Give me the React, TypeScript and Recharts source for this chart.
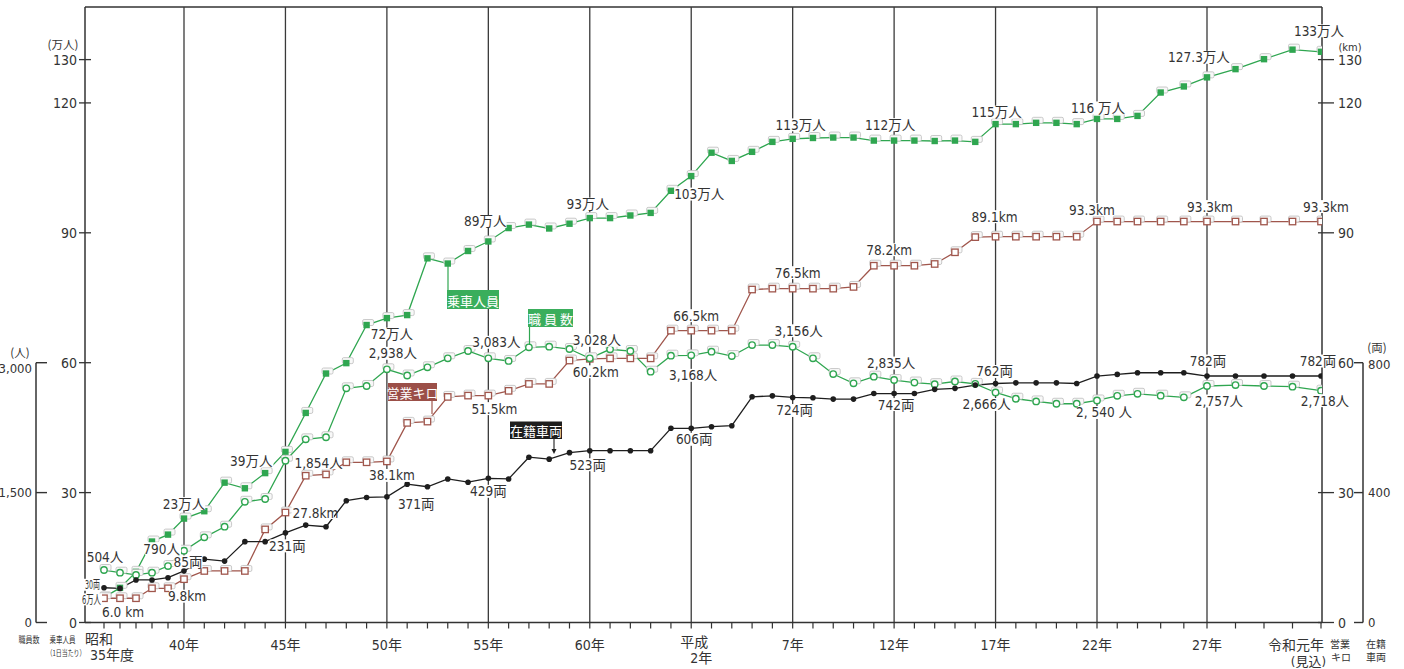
import { LineChart, Line, XAxis, YAxis, ReferenceLine, LabelList } from 'recharts'

// 地下鉄 事業の推移（昭和35年度〜令和元年度見込）
const YEARS = [
  1960, 1961, 1962, 1963, 1964, 1965, 1966, 1967, 1968, 1969,
  1970, 1971, 1972, 1973, 1974, 1975, 1976, 1977, 1978, 1979,
  1980, 1981, 1982, 1983, 1984, 1985, 1986, 1987, 1988, 1989,
  1990, 1991, 1992, 1993, 1994, 1995, 1996, 1997, 1998, 1999,
  2000, 2001, 2002, 2003, 2004, 2005, 2006, 2007, 2008, 2009,
  2010, 2011, 2012, 2013, 2014, 2015, 2016, 2017, 2018, 2019,
]

// 乗車人員（1日当たり、万人）
const RIDERS = [
  5.8, 8.0, 11.7, 18.7, 20.3, 24.0, 25.7, 32.3, 31.0, 34.5,
  39.4, 48.4, 57.5, 59.9, 68.7, 70.3, 71.0, 84.1, 82.9, 85.8,
  88.0, 91.1, 91.9, 91.0, 92.1, 93.4, 93.4, 94.0, 94.6, 99.7,
  103.1, 108.5, 106.6, 108.7, 111.0, 111.7, 111.9, 112.0, 112.0, 111.3,
  111.3, 111.3, 111.2, 111.3, 111.0, 115.1, 115.1, 115.4, 115.4, 115.1,
  116.3, 116.3, 117.0, 122.4, 123.8, 125.9, 127.8, 130.1, 132.3, 131.8,
]

// 営業キロ（km）
const ROUTE_KM = [
  5.6, 5.6, 5.6, 7.9, 7.9, 10.0, 11.9, 11.9, 11.9, 21.5,
  25.4, 33.9, 34.2, 37.0, 37.0, 37.2, 46.1, 46.4, 52.1, 52.4,
  52.4, 53.5, 55.1, 55.1, 60.5, 60.9, 61.0, 61.0, 61.0, 67.4,
  67.4, 67.4, 67.4, 76.9, 77.1, 77.1, 77.1, 77.1, 77.5, 82.4,
  82.4, 82.4, 82.8, 85.5, 89.0, 89.1, 89.1, 89.1, 89.1, 89.1,
  92.6, 92.6, 92.6, 92.6, 92.6, 92.6, 92.6, 92.6, 92.6, 92.6,
]

// 職員数（人）
const STAFF = [
  606, 575, 549, 575, 652, 829, 983, 1106, 1394, 1426,
  1868, 2115, 2139, 2704, 2731, 2924, 2852, 2947, 3051, 3135,
  3051, 3020, 3178, 3185, 3158, 3051, 3155, 3135, 2896, 3081,
  3085, 3127, 3077, 3204, 3204, 3184, 3051, 2869, 2762, 2839,
  2800, 2771, 2752, 2783, 2756, 2656, 2584, 2553, 2526, 2526,
  2564, 2618, 2641, 2619, 2600, 2731, 2742, 2731, 2723, 2677,
]

// 在籍車両（両）
const CARS = [
  107, 105, 131, 131, 138, 159, 195, 189, 249, 249,
  276, 300, 295, 375, 385, 387, 426, 418, 442, 432,
  444, 442, 509, 503, 523, 529, 529, 529, 529, 598,
  598, 603, 606, 695, 698, 693, 692, 688, 688, 705,
  705, 705, 718, 721, 731, 736, 738, 738, 738, 736,
  759, 764, 769, 769, 769, 759, 759, 759, 759, 759,
]

const GRID_YEARS = [1965, 1970, 1975, 1980, 1985, 1990, 1995, 2000, 2005, 2010, 2015]
const UNIT_TICKS = [0, 30, 60, 90, 120, 130]
const STAFF_TICKS = [0, 1500, 3000]
const CAR_TICKS = [0, 400, 800]

const YEAR_LABELS: Record<number, string[]> = {
  1960: ['昭和', '35年度'],
  1965: ['40年'],
  1970: ['45年'],
  1975: ['50年'],
  1980: ['55年'],
  1985: ['60年'],
  1990: ['平成', '2年'],
  1995: ['7年'],
  2000: ['12年'],
  2005: ['17年'],
  2010: ['22年'],
  2015: ['27年'],
  2019: ['令和元年', '(見込)'],
}

const ROWS = YEARS.map((year, i) => ({
  year,
  riders: RIDERS[i],
  km: ROUTE_KM[i],
  staff: STAFF[i],
  cars: CARS[i],
}))

// ---- layout ----
const W = 1404
const H = 669
const PLOT = { left: 85, right: 1322, top: 7, bottom: 622.5 }
const Y_MAX = 142.15 // 万人 / km at the top edge
const STAFF_PER_UNIT = 3000 / 60
const CARS_PER_UNIT = 800 / 60
const BRACKET_TOP = PLOT.bottom - (60 * (PLOT.bottom - PLOT.top)) / Y_MAX

const GREEN = '#2fa650'
const GREEN_BOX = '#3aae5c'
const BROWN = '#a0564c'
const BROWN_BOX = '#9b4f48'
const BLACK = '#1e1e1e'
const INK = '#333'
const AXIS = '#333'
const FONT = "'Liberation Sans Narrow', 'DejaVu Sans Condensed', 'Noto Sans CJK JP', sans-serif"
const JP = "'Noto Sans CJK JP', sans-serif"

// The original axis is not evenly spaced: the first five years are squeezed and
// the last ones stretched. Year -> distance along the axis.
const X_BREAKS: [number, number][] = [
  [1958.8, 0], [1960, 19], [1965, 99], [2010, 1012], [2012, 1052.5],
  [2015, 1122], [2019, 1236], [2019.05, 1237],
]
const X_DOMAIN = [X_BREAKS[0][0], X_BREAKS[X_BREAKS.length - 1][0]]

function yearScale(): any {
  let dom = X_DOMAIN.slice()
  let rng = [0, 1]
  const total = X_BREAKS[X_BREAKS.length - 1][1]
  const frac = (v: number) => {
    for (let i = 1; i < X_BREAKS.length; i++) {
      const [a, pa] = X_BREAKS[i - 1]
      const [b, pb] = X_BREAKS[i]
      if (v <= b || i === X_BREAKS.length - 1) return (pa + ((v - a) / (b - a)) * (pb - pa)) / total
    }
    return 0
  }
  const s: any = (v: number) => rng[0] + frac(Number(v)) * (rng[1] - rng[0])
  s.domain = (d?: number[]) => (d ? ((dom = d.slice()), s) : dom.slice())
  s.range = (r?: number[]) => (r ? ((rng = r.slice()), s) : rng.slice())
  s.rangeRound = s.range
  s.copy = () => yearScale().domain(dom).range(rng)
  s.ticks = () => YEARS.slice()
  s.tickFormat = () => (v: number) => String(v)
  s.invert = (px: number) => {
    let best = YEARS[0]
    for (const y of YEARS) if (Math.abs(s(y) - px) < Math.abs(s(best) - px)) best = y
    return best
  }
  s.clamp = () => s
  s.nice = () => s
  s.unknown = () => s
  return s
}

// ---- data labels ----
type Note = {
  year: number
  text: string
  dx: number
  dy: number
  anchor?: 'start' | 'middle' | 'end'
  size?: number
  fit?: number
}

const RIDER_NOTES: Note[] = [
  { year: 1960, text: '6万人', dx: -3, dy: 2, anchor: 'end', size: 12.5, fit: 19 },
  { year: 1965, text: '23万人', dx: 0, dy: -15 },
  { year: 1970, text: '39万人', dx: -13, dy: 9, anchor: 'end' },
  { year: 1975, text: '72万人', dx: 5, dy: 16 },
  { year: 1980, text: '89万人', dx: -3, dy: -20 },
  { year: 1985, text: '93万人', dx: -2, dy: -14 },
  { year: 1990, text: '103万人', dx: 8, dy: 18 },
  { year: 1995, text: '113万人', dx: 8, dy: -14 },
  { year: 2000, text: '112万人', dx: -4, dy: -16 },
  { year: 2005, text: '115万人', dx: 1, dy: -12 },
  { year: 2010, text: '116 万人', dx: 1, dy: -11 },
  { year: 2015, text: '127.3万人', dx: -8, dy: -20 },
  { year: 2019, text: '133万人', dx: -2, dy: -21 },
]

const STAFF_NOTES: Note[] = [
  { year: 1960, text: '504人', dx: 1, dy: -13 },
  { year: 1965, text: '790人', dx: -4, dy: -2, anchor: 'end' },
  { year: 1970, text: '1,854人', dx: 9, dy: 2, anchor: 'start' },
  { year: 1975, text: '2,938人', dx: 6, dy: -16 },
  { year: 1980, text: '3,083人', dx: 8, dy: -16 },
  { year: 1985, text: '3,028人', dx: 7, dy: -18 },
  { year: 1990, text: '3,168人', dx: 2, dy: 20 },
  { year: 1995, text: '3,156人', dx: 6, dy: -16 },
  { year: 2000, text: '2,835人', dx: -3, dy: -17 },
  { year: 2005, text: '2,666人', dx: -9, dy: 12 },
  { year: 2010, text: '2, 540 人', dx: 7, dy: 12 },
  { year: 2015, text: '2,757人', dx: 12, dy: 15 },
  { year: 2019, text: '2,718人', dx: 4, dy: 10 },
]

const KM_NOTES: Note[] = [
  { year: 1960, text: '6.0 km', dx: 19, dy: 14 },
  { year: 1965, text: '9.8km', dx: 3, dy: 17 },
  { year: 1970, text: '27.8km', dx: 7, dy: 0, anchor: 'start' },
  { year: 1975, text: '38.1km', dx: 5, dy: 14 },
  { year: 1980, text: '51.5km', dx: 6, dy: 13 },
  { year: 1985, text: '60.2km', dx: 6, dy: 13 },
  { year: 1990, text: '66.5km', dx: 5, dy: -15 },
  { year: 1995, text: '76.5km', dx: 5, dy: -16 },
  { year: 2000, text: '78.2km', dx: -5, dy: -16 },
  { year: 2005, text: '89.1km', dx: -1, dy: -20 },
  { year: 2010, text: '93.3km', dx: -5, dy: -12 },
  { year: 2015, text: '93.3km', dx: 3, dy: -15 },
  { year: 2019, text: '93.3km', dx: 5, dy: -15 },
]

const CAR_NOTES: Note[] = [
  { year: 1960, text: '30両', dx: -4, dy: -3, anchor: 'end', size: 12.5, fit: 15 },
  { year: 1965, text: '85両', dx: 4, dy: -9 },
  { year: 1970, text: '231両', dx: 2, dy: 13 },
  { year: 1975, text: '371両', dx: 11, dy: 7, anchor: 'start' },
  { year: 1980, text: '429両', dx: 0, dy: 13 },
  { year: 1985, text: '523両', dx: -2, dy: 14 },
  { year: 1990, text: '606両', dx: 3, dy: 11 },
  { year: 1995, text: '724両', dx: 2, dy: 13 },
  { year: 2000, text: '742両', dx: 2, dy: 11 },
  { year: 2005, text: '762両', dx: -1, dy: -12 },
  { year: 2015, text: '782両', dx: 1, dy: -15 },
  { year: 2019, text: '782両', dx: -3, dy: -15 },
]

function textWidth(s: string, size: number) {
  let w = 0
  for (const ch of s) {
    const c = ch.codePointAt(0) ?? 0
    if (c > 0x2e80) w += size
    else if (ch === ',' || ch === '.' || ch === ' ') w += size * 0.25
    else if (ch === 'm') w += size * 0.75
    else w += size * 0.5
  }
  return w
}

function noteContent(list: Note[]) {
  return (p: any) => {
    const row = ROWS[p.index]
    const n = row && list.find((q) => q.year === row.year)
    if (!n) return null
    const px = p.viewBox?.x ?? p.x
    const py = p.viewBox?.y ?? p.y
    if (px == null || py == null) return null
    const size = n.size ?? 13.5
    const anchor = n.anchor ?? 'middle'
    const x = px + n.dx
    const y = py + n.dy
    const w = n.fit ?? textWidth(n.text, size)
    const left = anchor === 'middle' ? x - w / 2 : anchor === 'end' ? x - w : x
    return (
      <g>
        <rect x={left - 1} y={y - size * 0.48} width={w + 2} height={size * 0.96} fill="#fff" />
        <text
          x={x}
          y={y}
          textAnchor={anchor}
          dominantBaseline="central"
          fontSize={size}
          fontFamily={FONT}
          fill={INK}
          textLength={n.fit}
          lengthAdjust={n.fit ? 'spacingAndGlyphs' : undefined}
        >
          {n.text}
        </text>
      </g>
    )
  }
}

// ---- markers ----
function Ghost({ cx, cy }: { cx: number, cy: number }) {
  return <rect x={cx - 4} y={cy - 5.5} width={11} height={6} rx={1.5} fill="#f8f8f8" stroke="#bcbcbc" strokeWidth={0.8} />
}

function RiderDot(p: any) {
  if (p.cx == null || p.cy == null) return null
  return (
    <g>
      <Ghost cx={p.cx} cy={p.cy} />
      <rect x={p.cx - 3.2} y={p.cy - 3.2} width={6.4} height={6.4} fill={GREEN} />
    </g>
  )
}

function StaffDot(p: any) {
  if (p.cx == null || p.cy == null) return null
  return (
    <g>
      <Ghost cx={p.cx} cy={p.cy} />
      <circle cx={p.cx} cy={p.cy} r={3.2} fill="#fff" stroke={GREEN} strokeWidth={1.4} />
    </g>
  )
}

function KmDot(p: any) {
  if (p.cx == null || p.cy == null) return null
  return (
    <g>
      <Ghost cx={p.cx} cy={p.cy} />
      <rect x={p.cx - 3.2} y={p.cy - 3.2} width={6.4} height={6.4} fill="#fff" stroke={BROWN} strokeWidth={1.3} />
    </g>
  )
}

function CarDot(p: any) {
  if (p.cx == null || p.cy == null) return null
  return <circle cx={p.cx} cy={p.cy} r={2.8} fill={BLACK} />
}

// ---- ticks ----
function YearTick(p: any) {
  const { x, y, payload } = p
  const lines = YEAR_LABELS[payload.value]
  if (!lines) return null
  const common = { fontSize: 14, fontFamily: FONT, fill: INK, dominantBaseline: 'central' as const }
  if (payload.value === 1960) {
    return (
      <g>
        <text {...common} x={x - 5} y={y + 8.5} textAnchor="middle">{lines[0]}</text>
        <text {...common} x={x + 8} y={y + 24} textAnchor="middle">{lines[1]}</text>
      </g>
    )
  }
  if (payload.value === 1990) {
    return (
      <g>
        <text {...common} x={x + 3} y={y + 11} textAnchor="middle">{lines[0]}</text>
        <text {...common} x={x + 10} y={y + 27} textAnchor="middle">{lines[1]}</text>
      </g>
    )
  }
  if (payload.value === 2019) {
    return (
      <g>
        <text {...common} x={x + 3} y={y + 14.5} textAnchor="end">{lines[0]}</text>
        <text {...common} fontSize={13} x={x + 5} y={y + 30.5} textAnchor="end">{lines[1]}</text>
      </g>
    )
  }
  return <text {...common} x={x} y={y + 14.5} textAnchor="middle">{lines[0]}</text>
}

function UnitTickLeft(p: any) {
  const { x, y, payload } = p
  return (
    <g>
      <line x1={x + 2} x2={x + 14} y1={y} y2={y} stroke={AXIS} strokeWidth={1.3} />
      <text x={x} y={y} textAnchor="end" dominantBaseline="central" fontSize={14} fontFamily={FONT} fill={INK}>
        {payload.value}
      </text>
    </g>
  )
}

function UnitTickRight(p: any) {
  const { x, y, payload } = p
  return (
    <g>
      <line x1={x - 20} x2={x - 4} y1={y} y2={y} stroke={AXIS} strokeWidth={1.3} />
      <text x={x} y={y} textAnchor="start" dominantBaseline="central" fontSize={14} fontFamily={FONT} fill={INK}>
        {payload.value}
      </text>
    </g>
  )
}

function StaffTick(p: any) {
  const { x, y, payload } = p
  // the top label sits just under its tick, below the (人) unit
  const shift = payload.value === 3000 ? 6 : 0
  return (
    <g>
      <line x1={x} x2={x + 11} y1={y} y2={y} stroke={AXIS} strokeWidth={1.4} />
      <text x={x - 4} y={y + shift} textAnchor="end" dominantBaseline="central" fontSize={13} fontFamily={FONT} fill={INK}>
        {payload.value.toLocaleString('en-US')}
      </text>
    </g>
  )
}

function CarTick(p: any) {
  const { x, y, payload } = p
  const shift = payload.value === 800 ? 2 : 0
  return (
    <g>
      <line x1={x - 9} x2={x} y1={y} y2={y} stroke={AXIS} strokeWidth={1.4} />
      <text x={x + 5} y={y + shift} textAnchor="start" dominantBaseline="central" fontSize={13} fontFamily={FONT} fill={INK}>
        {payload.value}
      </text>
    </g>
  )
}

// ---- static annotations ----
function Callout({ x, y, w, h, fill, text }: { x: number, y: number, w: number, h: number, fill: string, text: string }) {
  return (
    <g>
      <rect x={x} y={y} width={w} height={h} fill={fill} />
      <text x={x + w / 2} y={y + h / 2 + 0.5} textAnchor="middle" dominantBaseline="central" fontSize={13} fontFamily={JP} fill="#fff">
        {text}
      </text>
    </g>
  )
}

function Annotations() {
  const small = { fontFamily: JP, fill: INK, textAnchor: 'middle' as const, dominantBaseline: 'central' as const }
  return (
    <svg width={W} height={H} style={{ position: 'absolute', left: 0, top: 0, pointerEvents: 'none' }}>
      <text {...small} x={63} y={44} fontSize={11.5}>(万人)</text>
      <text {...small} x={1350} y={47} fontSize={11} fontFamily={FONT}>(km)</text>
      <text {...small} x={20} y={352} fontSize={11.5}>(人)</text>
      <text {...small} x={1377} y={347} fontSize={11.5}>(両)</text>

      <text {...small} x={29} y={639} fontSize={9} textLength={21} lengthAdjust="spacingAndGlyphs">職員数</text>
      <text {...small} x={62.5} y={639} fontSize={9} textLength={26} lengthAdjust="spacingAndGlyphs">乗車人員</text>
      <text {...small} x={66} y={652} fontSize={8} textLength={39} lengthAdjust="spacingAndGlyphs">（1日当たり）</text>
      <text {...small} x={1340} y={643} fontSize={10}>営業</text>
      <text {...small} x={1341} y={656} fontSize={10}>キロ</text>
      <text {...small} x={1376} y={643} fontSize={10}>在籍</text>
      <text {...small} x={1376} y={656} fontSize={10}>車両</text>

      <line x1={448} x2={448} y1={265} y2={290} stroke={GREEN} strokeWidth={1.2} />
      <Callout x={447} y={290} w={52} h={19} fill={GREEN_BOX} text="乗車人員" />

      <line x1={529.5} x2={529.5} y1={327} y2={345} stroke={GREEN} strokeWidth={1.2} />
      <Callout x={528} y={309} w={45} h={18} fill={GREEN_BOX} text="職 員 数" />

      <line x1={432} x2={432} y1={401} y2={414} stroke={BROWN} strokeWidth={1.2} />
      <Callout x={388} y={383} w={49} h={18} fill={BROWN_BOX} text="営業キロ" />

      <line x1={554} x2={554} y1={439} y2={450} stroke={BLACK} strokeWidth={1.1} />
      <path d="M551.5,449 L556.5,449 L554,454 Z" fill={BLACK} />
      <Callout x={510} y={421.5} w={52} h={17.5} fill={BLACK} text="在籍車両" />
    </svg>
  )
}

export default function App() {
  return (
    <div style={{ position: 'absolute', left: 0, top: 0, width: W, height: H, background: '#fff' }}>
      <div style={{ position: 'absolute', left: 0, top: 0 }}>
        <LineChart width={W} height={H} data={ROWS} margin={{ top: PLOT.top, right: 0, bottom: 0, left: 0 }}>
          <XAxis
            type="number"
            dataKey="year"
            domain={X_DOMAIN}
            scale={yearScale()}
            allowDataOverflow
            ticks={YEARS}
            interval={0}
            height={H - PLOT.bottom}
            tickSize={6}
            tickMargin={2}
            tick={<YearTick />}
            axisLine={{ stroke: AXIS, strokeWidth: 1.5 }}
            tickLine={{ stroke: AXIS, strokeWidth: 1.2 }}
          />
          <YAxis
            yAxisId="rider"
            orientation="left"
            width={PLOT.left}
            domain={[0, Y_MAX]}
            allowDataOverflow
            ticks={UNIT_TICKS}
            interval={0}
            tickSize={6}
            tickMargin={2}
            tickLine={false}
            tick={<UnitTickLeft />}
            axisLine={{ stroke: AXIS, strokeWidth: 1.5 }}
          />
          <YAxis
            yAxisId="km"
            orientation="right"
            width={W - PLOT.right}
            domain={[0, Y_MAX]}
            allowDataOverflow
            ticks={UNIT_TICKS}
            interval={0}
            tickSize={6}
            tickMargin={10}
            tickLine={false}
            tick={<UnitTickRight />}
            axisLine={{ stroke: AXIS, strokeWidth: 1.5 }}
          />
          <YAxis yAxisId="staff" hide width={0} domain={[0, Y_MAX * STAFF_PER_UNIT]} allowDataOverflow />
          <YAxis yAxisId="cars" hide width={0} domain={[0, Y_MAX * CARS_PER_UNIT]} allowDataOverflow />

          <ReferenceLine yAxisId="rider" y={Y_MAX} stroke={AXIS} strokeWidth={1.5} />
          {GRID_YEARS.map((yr) => (
            <ReferenceLine key={yr} yAxisId="rider" x={yr} stroke="#3a3a3a" strokeWidth={1.3} />
          ))}

          <Line
            yAxisId="rider"
            dataKey="riders"
            stroke={GREEN}
            strokeWidth={1.3}
            dot={<RiderDot />}
            activeDot={false}
            isAnimationActive={false}
          >
            <LabelList dataKey="riders" content={noteContent(RIDER_NOTES)} />
          </Line>
          <Line
            yAxisId="km"
            dataKey="km"
            stroke={BROWN}
            strokeWidth={1.3}
            dot={<KmDot />}
            activeDot={false}
            isAnimationActive={false}
          >
            <LabelList dataKey="km" content={noteContent(KM_NOTES)} />
          </Line>
          <Line
            yAxisId="staff"
            dataKey="staff"
            stroke={GREEN}
            strokeWidth={1.3}
            dot={<StaffDot />}
            activeDot={false}
            isAnimationActive={false}
          >
            <LabelList dataKey="staff" content={noteContent(STAFF_NOTES)} />
          </Line>
          <Line
            yAxisId="cars"
            dataKey="cars"
            stroke={BLACK}
            strokeWidth={1.3}
            dot={<CarDot />}
            activeDot={false}
            isAnimationActive={false}
          >
            <LabelList dataKey="cars" content={noteContent(CAR_NOTES)} />
          </Line>
        </LineChart>
      </div>

      {/* bracket axes for 職員数 (left) and 在籍車両 (right), which only run 0–3,000 / 0–800 */}
      <div style={{ position: 'absolute', left: 0, top: 0, pointerEvents: 'none' }}>
        <LineChart width={W} height={H} data={ROWS} margin={{ top: BRACKET_TOP, right: 0, bottom: H - PLOT.bottom, left: 0 }}>
          <YAxis
            yAxisId="staff"
            orientation="left"
            width={36}
            domain={[0, 3000]}
            allowDataOverflow
            ticks={STAFF_TICKS}
            interval={0}
            tickSize={0}
            tickMargin={0}
            tickLine={false}
            tick={<StaffTick />}
            axisLine={{ stroke: AXIS, strokeWidth: 1.5 }}
          />
          <YAxis
            yAxisId="cars"
            orientation="right"
            width={W - 1363}
            domain={[0, 800]}
            allowDataOverflow
            ticks={CAR_TICKS}
            interval={0}
            tickSize={0}
            tickMargin={0}
            tickLine={false}
            tick={<CarTick />}
            axisLine={{ stroke: AXIS, strokeWidth: 1.5 }}
          />
        </LineChart>
      </div>

      <Annotations />
    </div>
  )
}
